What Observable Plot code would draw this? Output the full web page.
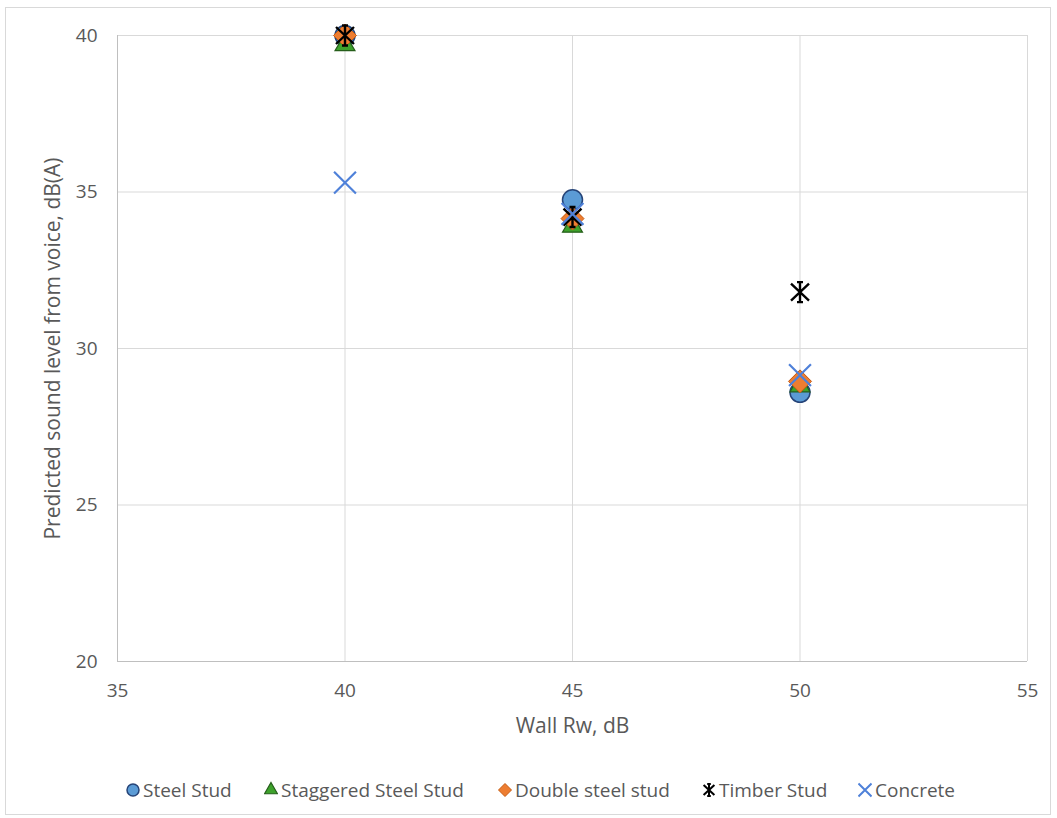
<!DOCTYPE html>
<html>
<head>
<meta charset="utf-8">
<script src="https://cdn.jsdelivr.net/npm/d3@7"></script>
<script src="https://cdn.jsdelivr.net/npm/@observablehq/plot@0.6"></script>
<style>
  html, body { margin: 0; padding: 0; background: #fff; }
  #frame { position: absolute; left: 5px; top: 7px; width: 1044px; height: 806px; border: 1px solid #d9d9d9; font-family: "Open Sans", sans-serif; color: #595959; }
  #chart { position: absolute; left: 0; top: 0; }
  #legend { position: absolute; left: 0; top: 769px; width: 1044px; height: 28px; font-size: 19px; }
  .item { position: absolute; top: 0; display: flex; align-items: center; white-space: nowrap; }
  .item svg { margin-right: 3px; }
</style>
</head>
<body>
<div id="frame">
  <div id="chart"></div>
  <div id="legend"></div>
</div>
<script>
const wallRw = [40, 45, 50];
const seriesNames = ["Steel Stud", "Staggered Steel Stud", "Double steel stud", "Timber Stud", "Concrete"];
const steelStud = [40.0, 34.75, 28.6];
const staggeredSteelStud = [39.7, 33.9, 28.8];
const doubleSteelStud = [40.0, 34.15, 28.95];
const timberStud = [40.0, 34.2, 31.8];
const concrete = [35.3, 34.3, 29.15];
const xTicks = [35, 40, 45, 50, 55];
const yTicks = [20, 25, 30, 35, 40];

const seriesValues = [steelStud, staggeredSteelStud, doubleSteelStud, timberStud, concrete];
const data = seriesNames.flatMap((s, i) => wallRw.map((x, j) => ({series: s, x, y: seriesValues[i][j]})));
const sub = s => data.filter(d => d.series === s);

// Excel-style star: X plus vertical line with small caps
const starSymbol = {
  draw(ctx, size) {
    const r = Math.sqrt(size / Math.PI);
    const a = r * 0.9;
    ctx.moveTo(-a, -r * 0.85); ctx.lineTo(a, r * 0.85);
    ctx.moveTo(a, -r * 0.85); ctx.lineTo(-a, r * 0.85);
    ctx.moveTo(0, -r); ctx.lineTo(0, r);
    ctx.moveTo(-r * 0.3, -r); ctx.lineTo(r * 0.3, -r);
    ctx.moveTo(-r * 0.3, r); ctx.lineTo(r * 0.3, r);
  }
};
// Excel-style diamond: square rotated 45 degrees
const diamondSymbol = {
  draw(ctx, size) {
    const r = Math.sqrt(size / Math.PI);
    ctx.moveTo(0, -r); ctx.lineTo(r, 0); ctx.lineTo(0, r); ctx.lineTo(-r, 0); ctx.closePath();
  }
};

const styles = {
  "Steel Stud": {symbol: "circle", fill: "#5b9bd5", stroke: "#264478", r: 10, sw: 1.5},
  "Staggered Steel Stud": {symbol: "triangle", fill: "#3ea22c", stroke: "#255e1a", r: 7.4, sw: 1.2},
  "Double steel stud": {symbol: diamondSymbol, fill: "#ed7d31", stroke: "#c55a11", r: 11.5, sw: 1},
  "Timber Stud": {symbol: starSymbol, fill: "none", stroke: "#000000", r: 10, sw: 2.4},
  "Concrete": {symbol: "times", fill: "none", stroke: "#4f81d9", r: 10, sw: 2.2}
};

const marks = [];
for (const s of seriesNames) {
  const st = styles[s];
  marks.push(Plot.dot(sub(s), {x: "x", y: "y", symbol: () => st.symbol, r: st.r, fill: st.fill, stroke: st.stroke, strokeWidth: st.sw}));
}

const plot = Plot.plot({
  width: 1044,
  height: 750,
  marginLeft: 111,
  marginRight: 23,
  marginTop: 27,
  marginBottom: 97,
  style: {fontFamily: "Open Sans, sans-serif", fontSize: "19px", color: "#595959", background: "white"},
  symbol: {type: "identity"},
  x: {domain: [35, 55], ticks: xTicks, label: null},
  y: {domain: [20, 40], ticks: yTicks, label: null},
  marks: [
    Plot.gridX(xTicks, {stroke: "#d9d9d9", strokeOpacity: 1, strokeWidth: 1}),
    Plot.gridY(yTicks, {stroke: "#d9d9d9", strokeOpacity: 1, strokeWidth: 1}),
    Plot.ruleX([35], {stroke: "#bfbfbf"}),
    Plot.ruleY([20], {stroke: "#bfbfbf"}),
    Plot.axisX(xTicks, {tickSize: 0, tickPadding: 22, fontSize: 19, fill: "#595959"}),
    Plot.axisY(yTicks, {tickSize: 0, tickPadding: 20, fontSize: 19, fill: "#595959"}),
    Plot.text(["Wall Rw, dB"], {frameAnchor: "bottom", dy: 71, fontSize: 21, fill: "#595959"}),
    Plot.text(["Predicted sound level from voice, dB(A)"], {frameAnchor: "left", dx: -64, rotate: -90, textAnchor: "middle", fontSize: 21, fill: "#595959"}),
    ...marks
  ]
});
document.getElementById("chart").appendChild(plot);

// Legend
const legendX = [120, 258, 492, 696, 852];
const legend = document.getElementById("legend");
const builtin = {circle: d3.symbolCircle, triangle: d3.symbolTriangle, times: d3.symbolTimes};
seriesNames.forEach((s, i) => {
  const st = styles[s];
  const item = document.createElement("div");
  item.className = "item";
  item.style.left = legendX[i] + "px";
  const svg = d3.create("svg").attr("width", 14).attr("height", 26);
  const symObj = typeof st.symbol === "string" ? builtin[st.symbol] : st.symbol;
  const rr = s === "Staggered Steel Stud" ? 4.8 : (s === "Double steel stud" ? 6.5 : 6);
  svg.append("path")
    .attr("transform", "translate(7,13)")
    .attr("d", d3.symbol(symObj, Math.PI * rr * rr)())
    .attr("fill", st.fill).attr("stroke", st.stroke).attr("stroke-width", Math.min(st.sw, 2));
  item.appendChild(svg.node());
  const span = document.createElement("span");
  span.textContent = s;
  item.appendChild(span);
  legend.appendChild(item);
});
</script>
</body>
</html>
